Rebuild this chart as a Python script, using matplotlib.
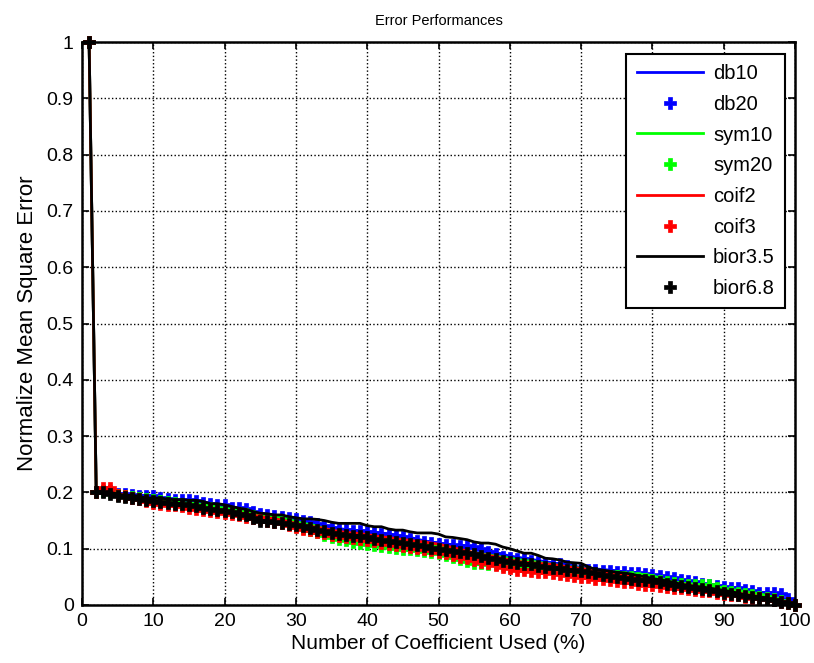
import matplotlib
matplotlib.use('Agg')
import matplotlib.pyplot as plt
import numpy as np

plt.rcParams['font.family'] = ['Liberation Sans', 'DejaVu Sans']

# percent of coefficients kept
pct = list(range(1, 101))

db10 = [1.0, 0.2, 0.2, 0.2, 0.196, 0.195, 0.194, 0.192, 0.19, 0.19,
        0.188, 0.186, 0.185, 0.184, 0.183, 0.182, 0.18, 0.178, 0.177, 0.175,
        0.172, 0.17, 0.168, 0.163, 0.16, 0.158, 0.155, 0.155, 0.152, 0.15,
        0.148, 0.146, 0.144, 0.141, 0.138, 0.136, 0.134, 0.133, 0.132, 0.131,
        0.129, 0.128, 0.126, 0.124, 0.122, 0.12, 0.117, 0.114, 0.112, 0.11,
        0.108, 0.107, 0.105, 0.103, 0.101, 0.099, 0.096, 0.093, 0.09, 0.087,
        0.085, 0.083, 0.081, 0.079, 0.077, 0.075, 0.073, 0.071, 0.069, 0.067,
        0.066, 0.064, 0.063, 0.062, 0.06, 0.058, 0.057, 0.056, 0.054, 0.052,
        0.05, 0.048, 0.045, 0.043, 0.04, 0.038, 0.036, 0.034, 0.032, 0.03,
        0.028, 0.026, 0.024, 0.022, 0.02, 0.018, 0.015, 0.01, 0.005, 0.0]

db20 = [1.0, 0.2, 0.203, 0.202, 0.198, 0.197, 0.196, 0.194, 0.193, 0.193,
        0.19, 0.188, 0.187, 0.186, 0.186, 0.184, 0.182, 0.18, 0.178, 0.177,
        0.173, 0.172, 0.171, 0.165, 0.162, 0.16, 0.158, 0.157, 0.154, 0.152,
        0.15, 0.147, 0.144, 0.141, 0.137, 0.134, 0.133, 0.132, 0.131, 0.13,
        0.128, 0.127, 0.125, 0.123, 0.121, 0.118, 0.114, 0.112, 0.11, 0.108,
        0.107, 0.106, 0.105, 0.104, 0.103, 0.099, 0.095, 0.09, 0.086, 0.083,
        0.082, 0.081, 0.079, 0.076, 0.074, 0.073, 0.072, 0.069, 0.066, 0.064,
        0.063, 0.062, 0.061, 0.06, 0.059, 0.058, 0.057, 0.056, 0.055, 0.054,
        0.051, 0.049, 0.048, 0.045, 0.043, 0.04, 0.038, 0.036, 0.034, 0.032,
        0.031, 0.03, 0.026, 0.024, 0.022, 0.022, 0.021, 0.02, 0.01, 0.0]

sym10 = [1.0, 0.2, 0.2, 0.199, 0.196, 0.194, 0.192, 0.19, 0.189, 0.188,
         0.187, 0.185, 0.184, 0.182, 0.181, 0.18, 0.178, 0.176, 0.174, 0.172,
         0.17, 0.168, 0.166, 0.163, 0.16, 0.158, 0.156, 0.155, 0.152, 0.148,
         0.145, 0.143, 0.14, 0.136, 0.132, 0.13, 0.128, 0.126, 0.124, 0.122,
         0.12, 0.118, 0.116, 0.114, 0.112, 0.11, 0.109, 0.108, 0.106, 0.105,
         0.103, 0.1, 0.097, 0.095, 0.093, 0.091, 0.089, 0.087, 0.085, 0.083,
         0.081, 0.079, 0.078, 0.076, 0.074, 0.072, 0.07, 0.068, 0.067, 0.065,
         0.063, 0.062, 0.06, 0.059, 0.058, 0.057, 0.056, 0.055, 0.054, 0.052,
         0.048, 0.044, 0.04, 0.038, 0.038, 0.037, 0.036, 0.034, 0.032, 0.03,
         0.028, 0.026, 0.024, 0.022, 0.02, 0.017, 0.014, 0.01, 0.005, 0.0]

sym20 = [1.0, 0.2, 0.202, 0.2, 0.195, 0.194, 0.192, 0.19, 0.188, 0.186,
         0.185, 0.183, 0.182, 0.18, 0.178, 0.176, 0.174, 0.172, 0.17, 0.168,
         0.166, 0.164, 0.161, 0.158, 0.155, 0.152, 0.15, 0.148, 0.145, 0.14,
         0.137, 0.134, 0.13, 0.125, 0.12, 0.117, 0.115, 0.112, 0.11, 0.108,
         0.106, 0.104, 0.103, 0.102, 0.1, 0.099, 0.098, 0.096, 0.094, 0.092,
         0.088, 0.085, 0.082, 0.078, 0.075, 0.074, 0.073, 0.072, 0.071, 0.07,
         0.069, 0.068, 0.067, 0.066, 0.065, 0.064, 0.063, 0.061, 0.06, 0.058,
         0.056, 0.055, 0.053, 0.052, 0.051, 0.05, 0.049, 0.048, 0.047, 0.045,
         0.043, 0.04, 0.039, 0.037, 0.036, 0.036, 0.036, 0.035, 0.03, 0.025,
         0.023, 0.021, 0.019, 0.017, 0.015, 0.013, 0.01, 0.007, 0.004, 0.0]

coif2 = [1.0, 0.2, 0.205, 0.204, 0.197, 0.194, 0.192, 0.19, 0.188, 0.186,
         0.184, 0.182, 0.18, 0.178, 0.177, 0.175, 0.173, 0.171, 0.17, 0.168,
         0.166, 0.164, 0.162, 0.16, 0.157, 0.155, 0.153, 0.151, 0.148, 0.145,
         0.142, 0.14, 0.138, 0.136, 0.133, 0.131, 0.129, 0.128, 0.127, 0.125,
         0.123, 0.121, 0.12, 0.118, 0.116, 0.115, 0.113, 0.112, 0.11, 0.108,
         0.105, 0.102, 0.099, 0.096, 0.093, 0.09, 0.088, 0.086, 0.083, 0.08,
         0.078, 0.076, 0.075, 0.074, 0.073, 0.072, 0.07, 0.068, 0.066, 0.065,
         0.063, 0.061, 0.059, 0.057, 0.055, 0.053, 0.051, 0.049, 0.047, 0.045,
         0.043, 0.041, 0.039, 0.037, 0.035, 0.033, 0.031, 0.029, 0.027, 0.025,
         0.023, 0.021, 0.019, 0.017, 0.015, 0.012, 0.01, 0.007, 0.004, 0.0]

coif3 = [1.0, 0.2, 0.207, 0.207, 0.195, 0.193, 0.19, 0.188, 0.185, 0.182,
         0.18, 0.178, 0.177, 0.175, 0.172, 0.17, 0.168, 0.167, 0.165, 0.163,
         0.161, 0.159, 0.157, 0.155, 0.152, 0.15, 0.147, 0.145, 0.142, 0.138,
         0.135, 0.133, 0.13, 0.128, 0.125, 0.123, 0.121, 0.119, 0.117, 0.115,
         0.113, 0.111, 0.109, 0.107, 0.105, 0.103, 0.101, 0.099, 0.097, 0.095,
         0.092, 0.089, 0.086, 0.083, 0.08, 0.077, 0.074, 0.071, 0.068, 0.065,
         0.063, 0.062, 0.06, 0.059, 0.058, 0.056, 0.055, 0.053, 0.052, 0.05,
         0.049, 0.047, 0.046, 0.044, 0.043, 0.041, 0.04, 0.038, 0.036, 0.035,
         0.033, 0.032, 0.031, 0.03, 0.028, 0.027, 0.025, 0.024, 0.022, 0.02,
         0.018, 0.017, 0.015, 0.013, 0.012, 0.01, 0.008, 0.006, 0.003, 0.0]

bior35 = [1.0, 0.2, 0.2, 0.2, 0.197, 0.195, 0.195, 0.193, 0.19, 0.19,
          0.19, 0.188, 0.187, 0.187, 0.186, 0.186, 0.184, 0.18, 0.18, 0.178,
          0.175, 0.172, 0.17, 0.166, 0.163, 0.162, 0.16, 0.16, 0.157, 0.155,
          0.153, 0.153, 0.152, 0.15, 0.147, 0.145, 0.145, 0.145, 0.145, 0.141,
          0.139, 0.139, 0.135, 0.133, 0.133, 0.13, 0.128, 0.128, 0.128, 0.126,
          0.121, 0.12, 0.118, 0.116, 0.112, 0.11, 0.11, 0.108, 0.103, 0.1,
          0.096, 0.092, 0.092, 0.088, 0.083, 0.082, 0.08, 0.076, 0.075, 0.074,
          0.068, 0.063, 0.062, 0.06, 0.058, 0.057, 0.055, 0.052, 0.05, 0.047,
          0.045, 0.043, 0.04, 0.037, 0.035, 0.033, 0.032, 0.03, 0.028, 0.026,
          0.024, 0.021, 0.018, 0.016, 0.014, 0.012, 0.009, 0.006, 0.003, 0.0]

bior68 = [1.0, 0.2, 0.2, 0.198, 0.193, 0.192, 0.19, 0.188, 0.186, 0.185,
          0.183, 0.182, 0.18, 0.179, 0.177, 0.175, 0.173, 0.171, 0.169, 0.167,
          0.165, 0.162, 0.159, 0.155, 0.15, 0.149, 0.148, 0.146, 0.144, 0.142,
          0.14, 0.137, 0.134, 0.131, 0.128, 0.126, 0.125, 0.123, 0.122, 0.12,
          0.118, 0.116, 0.114, 0.112, 0.11, 0.108, 0.106, 0.104, 0.102, 0.1,
          0.098, 0.096, 0.094, 0.092, 0.09, 0.087, 0.084, 0.081, 0.079, 0.077,
          0.075, 0.073, 0.072, 0.07, 0.068, 0.066, 0.065, 0.063, 0.062, 0.06,
          0.058, 0.056, 0.054, 0.052, 0.05, 0.048, 0.047, 0.045, 0.044, 0.042,
          0.04, 0.038, 0.036, 0.034, 0.032, 0.03, 0.028, 0.026, 0.024, 0.022,
          0.02, 0.018, 0.016, 0.014, 0.012, 0.01, 0.008, 0.006, 0.003, 0.0]

# (label, values, colour, line or marker)
series = [('db10', db10, (0, 0, 1), 'line'),
          ('db20', db20, (0, 0, 1), 'marker'),
          ('sym10', sym10, (0, 1, 0), 'line'),
          ('sym20', sym20, (0, 1, 0), 'marker'),
          ('coif2', coif2, (1, 0, 0), 'line'),
          ('coif3', coif3, (1, 0, 0), 'marker'),
          ('bior3.5', bior35, (0, 0, 0), 'line'),
          ('bior6.8', bior68, (0, 0, 0), 'marker')]

fig = plt.figure(figsize=(8.14, 6.63), dpi=100)
ax = fig.add_axes([0.1007, 0.0875, 0.876, 0.849])

for name, vals, col, kind in series:
    if kind == 'line':
        ax.plot(pct, vals, color=col, lw=2, label=name, clip_on=False, zorder=3)
    else:
        ax.plot(pct, vals, ls='none', marker='P', ms=8, color=col, mec=col,
                mew=0.5, label=name, clip_on=False, zorder=3)

ax.set_xlim(0, 100)
ax.set_ylim(0, 1)
ax.set_xticks(np.arange(0, 101, 10))
ax.set_yticks(np.arange(0, 1.01, 0.1))
ax.set_yticklabels(['0', '0.1', '0.2', '0.3', '0.4', '0.5', '0.6', '0.7', '0.8', '0.9', '1'])
ax.tick_params(direction='in', length=5, width=1.2, top=True, right=True,
               labelsize=14, pad=6)
ax.grid(True, ls=':', color='k', lw=1.0)
for sp in ax.spines.values():
    sp.set_linewidth(1.8)
    sp.set_zorder(4)

ax.set_title('Error Performances', fontsize=10.5, pad=12)
ax.set_xlabel('Number of Coefficient Used (%)', fontsize=15, labelpad=3)
ax.set_ylabel('Normalize Mean Square Error', fontsize=16, labelpad=6)

leg = ax.legend(loc='upper right', bbox_to_anchor=(1 - 10 / 713, 1 - 12 / 563),
                borderaxespad=0, fontsize=14.5, fancybox=False, framealpha=1,
                edgecolor='k', handlelength=3.3, handletextpad=0.5,
                labelspacing=0.58, borderpad=0.5)
leg.get_frame().set_linewidth(1.5)
leg.set_zorder(5)

fig.savefig('out.png', dpi=100)
